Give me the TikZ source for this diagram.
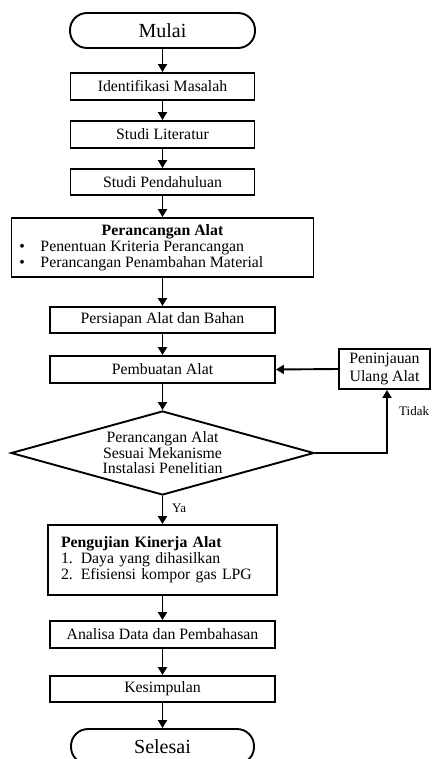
\documentclass[tikz,border=0pt]{standalone}
\usepackage{fontspec}
\setmainfont{Liberation Serif}
\usetikzlibrary{shapes.geometric,arrows.meta,calc}
\newcommand{\bigbul}{\makebox[29pt][l]{\hspace{8pt}\textbullet}}
\begin{document}
\begin{tikzpicture}[x=1pt,y=1pt,
  proc/.style={draw, line width=1.9pt, inner sep=0pt, align=center, font=\fontsize{15.8}{16}\selectfont},
  term/.style={draw, line width=1.9pt, inner sep=0pt, rounded corners=17pt, minimum height=35pt, font=\fontsize{20}{24}\selectfont},
  dec/.style={draw, line width=1.9pt, diamond, aspect=3.6, inner sep=0pt, minimum width=303pt, minimum height=84pt, align=center, font=\fontsize{15.8}{15.5}\selectfont},
  flow/.style={line width=1.9pt, -{Triangle[length=8pt,width=9pt]}},
  lbl/.style={inner sep=0pt, font=\fontsize{13}{15}\selectfont}
]
\clip (0,0) rectangle (431,-759);
\node[term, minimum width=185pt] (mulai) at (162.5,-30.5) {Mulai};
\node[proc, minimum width=184pt, minimum height=27pt] (ident) at (162.5,-86.5) {Identifikasi Masalah};
\node[proc, minimum width=184pt, minimum height=27pt] (lit) at (162.5,-134.5) {Studi Literatur};
\node[proc, minimum width=184pt, minimum height=26pt] (pend) at (162.5,-182) {Studi Pendahuluan};
\node[proc, minimum width=302pt, minimum height=59pt, text width=302pt, align=none] (peranc) at (162.5,-247.5)
  {\centering\textbf{Perancangan Alat}\par\raggedright
   \bigbul Penentuan Kriteria Perancangan\par
   \bigbul Perancangan Penambahan Material\par};
\node[proc, minimum width=225pt, minimum height=26pt] (persiapan) at (162.5,-320) {Persiapan Alat dan Bahan};
\node[proc, minimum width=225pt, minimum height=27pt] (pembuatan) at (162.5,-369.5) {Pembuatan Alat};
\node[proc, minimum width=91pt, minimum height=40pt, font=\fontsize{15.8}{17.5}\selectfont] (penin) at (384.5,-369) {Peninjauan\\Ulang Alat};
\coordinate (peninb) at ($(penin.south)+(2.5,0)$);
\node[dec] (dia) at (162.5,-453) {Perancangan Alat\\Sesuai Mekanisme\\Instalasi Penelitian};
\node[proc, minimum width=229pt, minimum height=70pt, text width=203pt, inner xsep=13pt, align=left] (uji) at (162.5,-560)
  {\textbf{Pengujian Kinerja Alat}\\1. Daya yang dihasilkan\\2. Efisiensi kompor gas LPG};
\node[proc, minimum width=225pt, minimum height=27pt] (analisa) at (162.5,-634.5) {Analisa Data dan Pembahasan};
\node[proc, minimum width=225pt, minimum height=26pt] (kesimp) at (162.5,-689) {Kesimpulan};
\node[term, minimum width=183pt] (selesai) at (162.5,-746.5) {Selesai};
\node[lbl, anchor=west] (tidak) at (399,-411) {Tidak};
\node[lbl, anchor=west] (ya) at (172,-508) {Ya};
\draw[flow] (mulai) -- (ident);
\draw[flow] (ident) -- (lit);
\draw[flow] (lit) -- (pend);
\draw[flow] (pend) -- (peranc);
\draw[flow] (peranc) -- (persiapan);
\draw[flow] (persiapan) -- (pembuatan);
\draw[flow] (pembuatan) -- (dia);
\draw[flow] (dia) -- (uji);
\draw[flow] (uji) -- (analisa);
\draw[flow] (analisa) -- (kesimp);
\draw[flow] (kesimp) -- (selesai);
\draw[flow] (penin.west) -- (pembuatan.east);
\draw[flow] (dia.east) -| (peninb);
\end{tikzpicture}
\end{document}
